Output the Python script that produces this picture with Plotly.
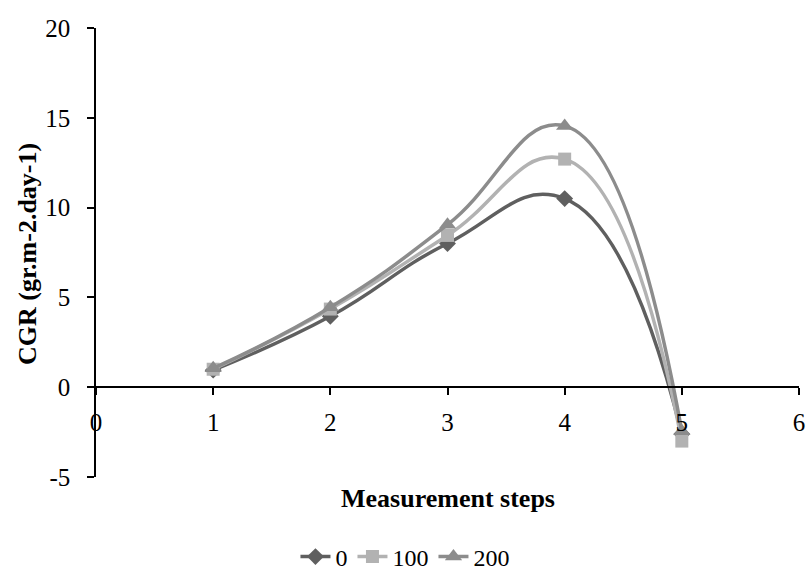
import plotly.graph_objects as go

steps = [1, 2, 3, 4, 5]
series_names = ["0", "100", "200"]
cgr_0 = [0.95, 3.95, 8.0, 10.5, -2.6]
cgr_100 = [1.0, 4.35, 8.45, 12.7, -3.0]
cgr_200 = [1.05, 4.45, 9.05, 14.55, -2.45]

y_ticks = [-5, 0, 5, 10, 15, 20]
y_tick_text = ["-5", "0", "5", "10", "15", "20"]
x_ticks = [0, 1, 2, 3, 4, 5, 6]

colors = ["#5f5f5f", "#b2b2b2", "#8c8c8c"]
symbols = ["diamond", "square", "triangle-up"]
sizes = [13, 13, 15]

font_family = "Liberation Serif"

fig = go.Figure()
for name, vals, c, s, sz in zip(series_names, [cgr_0, cgr_100, cgr_200], colors, symbols, sizes):
    fig.add_trace(go.Scatter(
        x=steps, y=vals, name=name, mode="lines+markers",
        line=dict(color=c, width=3.5, shape="spline", smoothing=1.3),
        marker=dict(symbol=s, size=sz, color=c),
    ))

fig.update_layout(
    width=808, height=579,
    margin=dict(l=96, r=9, t=28, b=102),
    paper_bgcolor="white", plot_bgcolor="white",
    font=dict(family=font_family, size=25, color="black"),
    showlegend=True,
    legend=dict(orientation="h", x=0.4395, xanchor="center",
                yref="container", y=1 - 557 / 579, yanchor="middle",
                font=dict(size=24), traceorder="normal"),
    xaxis=dict(range=[0, 6], tickvals=x_ticks, showgrid=False, zeroline=False,
               showline=True, linecolor="black", linewidth=1.5, ticks="outside", ticklen=7,
               tickcolor="black", tickwidth=1.5, anchor="free", position=0.2,
               ticklabelstandoff=6, tickfont=dict(size=25), automargin=False),
    yaxis=dict(range=[-5, 20], tickvals=y_ticks, ticktext=y_tick_text, showgrid=False, zeroline=False,
               showline=True, linecolor="black", linewidth=1.5, ticks="outside", ticklen=7,
               tickcolor="black", tickwidth=1.5, ticklabelstandoff=12, tickfont=dict(size=25),
               automargin=False),
    annotations=[
        dict(text="<b>Measurement steps</b>", xref="paper", yref="paper", x=0.5007, y=-0.0468,
             xanchor="center", yanchor="middle", showarrow=False, font=dict(size=26)),
        dict(text="<b>CGR (gr.m-2.day-1)</b>", xref="paper", yref="paper", x=-0.0967, y=0.4967,
             xanchor="center", yanchor="middle", textangle=-90, showarrow=False, font=dict(size=26)),
    ],
)

fig.write_html("out.html", config={"displayModeBar": False},
               post_script="document.body.style.margin='0';")
